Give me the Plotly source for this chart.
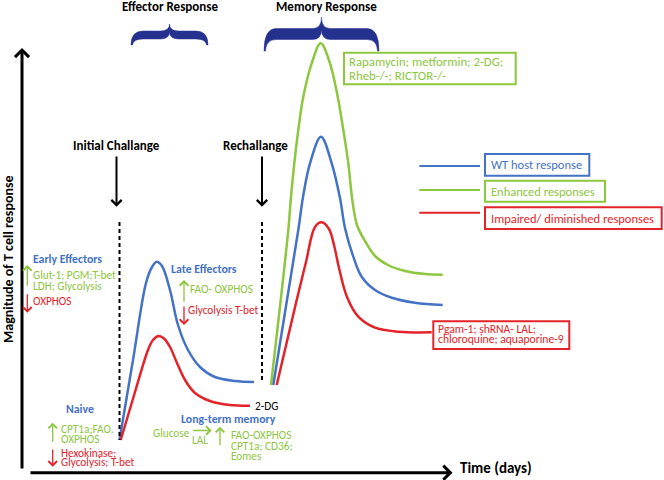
import plotly.graph_objects as go

# schematic curves: time (px-like units) vs magnitude of T cell response
t_wt_1 = [119.5, 133, 146, 152, 156.7, 162, 170, 178, 188, 200, 215, 235, 254]
m_wt_1 = [40, 120, 197, 213, 218.3, 214, 190, 155, 130, 113, 103, 99, 98]
t_imp_1 = [120.7, 135, 148, 153, 158.7, 164, 170, 177, 185, 195, 210, 230, 250]
m_imp_1 = [40, 88, 130, 140, 144, 141.5, 133, 117, 100, 87, 79, 75, 74.3]

t_enh_2 = [271, 288.3, 291, 294.3, 298.3, 303.3, 311.7, 320.7, 330, 337.7, 343.3, 348.3,
           352.3, 357, 365, 375, 388, 405, 425, 442.7]
m_enh_2 = [95, 250, 283.3, 316.7, 350, 383.3, 416.7, 436.7, 416.7, 383.3, 350, 316.7,
           280, 255, 239, 224, 215, 209, 206, 205.3]
t_wt_2 = [273.3, 298.3, 303, 310, 321, 331.7, 340, 345, 353.3, 361.7, 375, 391.7, 415, 442.7]
m_wt_2 = [95, 250, 283, 316.7, 343.3, 316.7, 282, 252, 223.3, 203.3, 190, 182.3, 177.3, 175]
t_imp_2 = [276.7, 296.7, 306, 315, 321.7, 329, 334, 339, 347, 358.3, 375, 398.3, 431.7]
m_imp_2 = [95, 180, 218, 253, 257.7, 251, 235, 212, 183, 163.3, 152.3, 148.3, 147.7]

legend_labels = ["WT host response", "Enhanced responses", "Impaired/ diminished responses"]

BLUE = "#4472C4"
GREEN = "#8DC63F"
RED = "#E3232A"
NAVY = "#24318F"
FONT = "Carlito, Lato, sans-serif"
SMALL = 11.3


def Y(py):
    # picture rows -> magnitude units
    return 480 - py


fig = go.Figure()
for t, m, c in [(t_wt_1, m_wt_1, BLUE), (t_imp_1, m_imp_1, RED),
                (t_enh_2, m_enh_2, GREEN), (t_wt_2, m_wt_2, BLUE), (t_imp_2, m_imp_2, RED)]:
    fig.add_trace(go.Scatter(x=t, y=m, mode="lines", line=dict(color=c, width=2.5, shape="spline"),
                             hoverinfo="skip"))

shapes = []
ann = []


def brace(x0, x1, yt, yb, ye, th):
    xc = (x0 + x1) / 2
    r, r2 = 12, 9
    a, b = yb - th / 2, yb + th / 2
    pts = [("M", x0, ye), ("Q", x0, a, x0 + r, a), ("L", xc - r2, a), ("Q", xc, a, xc, yt),
           ("Q", xc, a, xc + r2, a), ("L", x1 - r, a), ("Q", x1, a, x1, ye), ("L", x1 - 1.5, ye),
           ("Q", x1 - 2, b, x1 - r, b), ("L", xc + r2, b), ("Q", xc, b, xc, a + 1),
           ("Q", xc, b, xc - r2, b), ("L", x0 + r, b), ("Q", x0 + 2, b, x0 + 1.5, ye)]
    s = ""
    for p in pts:
        nums = p[1:]
        s += p[0] + " " + " ".join(f"{nums[i]},{Y(nums[i + 1])}" for i in range(0, len(nums), 2)) + " "
    return dict(type="path", path=s + "Z", fillcolor=NAVY, line=dict(color=NAVY, width=0.5),
                xref="x", yref="y")


shapes.append(brace(131, 208, 24, 35, 45, 8))
shapes.append(brace(264, 379, 17, 34, 51, 11))

# dashed challenge lines
shapes.append(dict(type="line", x0=119.5, x1=119.5, y0=Y(222), y1=Y(440),
                   line=dict(color="black", width=2, dash="4px,3px")))
shapes.append(dict(type="line", x0=262, x1=262, y0=Y(222), y1=Y(380),
                   line=dict(color="black", width=2, dash="4px,3px")))

# legend lines and boxes
for yl, c, (bx1, by0, by1), lab in zip([166, 190, 212.7], [BLUE, GREEN, RED],
                                        [(589.3, 154, 175.7), (605, 180.7, 201.7), (661.7, 207.3, 229)],
                                        legend_labels):
    shapes.append(dict(type="line", x0=419.3, x1=480, y0=Y(yl), y1=Y(yl), line=dict(color=c, width=2)))
    shapes.append(dict(type="rect", x0=485, x1=bx1, y0=Y(by0), y1=Y(by1), line=dict(color=c, width=2)))
    ann.append(dict(x=488.5, y=Y((by0 + by1) / 2), text=lab, xanchor="left", yanchor="middle",
                    showarrow=False, font=dict(color=c, size=12.5, family=FONT)))

shapes.append(dict(type="rect", x0=344, x1=515.7, y0=Y(52.7), y1=Y(84.3), line=dict(color=GREEN, width=2)))
shapes.append(dict(type="rect", x0=433.3, x1=569.3, y0=Y(321.3), y1=Y(349), line=dict(color=RED, width=2)))


def txt(x, py, s, color, size=SMALL, bold=False, anchor="left", **kw):
    if bold:
        s = "<b>" + s + "</b>"
    ann.append(dict(x=x, y=Y(py), text=s, xanchor=anchor, yanchor="middle", showarrow=False,
                    font=dict(color=color, size=size, family=FONT), **kw))


def arrow(x, py_tail, py_head, color, width=1.3, size=1.3):
    ann.append(dict(x=x, y=Y(py_head), ax=x, ay=Y(py_tail),
                    xref="x", yref="y", axref="x", ayref="y", text="", showarrow=True,
                    arrowhead=4, arrowsize=size, arrowwidth=width, arrowcolor=color, standoff=0))


txt(346.5, 61.7, "Rapamycin; metformin; 2-DG;", GREEN, 12.8)
txt(346.5, 75.7, "Rheb-/-; RICTOR-/-", GREEN, 12.8)
txt(435.5, 329.3, "Pgam-1; shRNA- LAL;", RED, 11.6)
txt(435.5, 339.3, "chloroquine; aquaporine-9", RED, 11.6)

txt(170, 6.7, "Effector Response", "black", 13, True, "center")
txt(326, 6.7, "Memory Response", "black", 13, True, "center")
txt(116.5, 145.7, "Initial Challange", "black", 13, True, "center")
txt(255.6, 145.7, "Rechallange", "black", 13, True, "center")
txt(496, 468, "Time (days)", "black", 15, True, "center")
txt(8, 259, "Magnitude of T cell response", "black", 14, True, "center", textangle=-90)

arrow(116.5, 155, 206.7, "black", 2, 1)
arrow(262, 155, 206.7, "black", 2, 1)

# axes
arrow(22, 470, 48, "black", 3, 0.9)
ann.append(dict(x=452.5, y=Y(472.7), ax=29, ay=Y(472.7), xref="x", yref="y", axref="x", ayref="y",
                text="", showarrow=True, arrowhead=4, arrowsize=0.9, arrowwidth=3,
                arrowcolor="black", standoff=0))

# early effectors
txt(31, 259, "Early Effectors", BLUE, 11.8, True)
arrow(27.3, 287.3, 265, GREEN)
txt(31, 275, "Glut-1; PGM;T-bet", GREEN)
txt(31, 286, "LDH; Glycolysis", GREEN)
arrow(27.3, 292.7, 312.7, RED)
txt(31, 301, "OXPHOS", RED)

# naive
txt(80, 409.3, "Naive", BLUE, 11.8, True, "center")
arrow(52.7, 443.3, 422.7, GREEN)
txt(59.3, 429, "CPT1a;FAO.", GREEN)
txt(59.3, 439, "OXPHOS", GREEN)
arrow(52.7, 448, 466.7, RED)
txt(59.3, 452.7, "Hexokinase;", RED)
txt(59.3, 462.3, "Glycolysis; T-bet", RED)

# late effectors
txt(169.3, 269.3, "Late Effectors", BLUE, 11.8, True)
arrow(184, 303.3, 280, GREEN)
txt(187.6, 289.3, "FAO- OXPHOS", GREEN)
arrow(184, 305, 325, RED)
txt(186, 310, "Glycolysis T-bet", RED)

# long-term memory
txt(253.3, 406, "2-DG", "black", SMALL)
txt(228.7, 419, "Long-term memory", BLUE, 11.8, True, "center")
txt(151, 432.7, "Glucose", GREEN)
ann.append(dict(x=211.7, y=Y(430.5), ax=191.7, ay=Y(430.5), xref="x", yref="y", axref="x", ayref="y",
                text="", showarrow=True, arrowhead=4, arrowsize=1.3, arrowwidth=1.3,
                arrowcolor=GREEN, standoff=0))
txt(200.3, 439.8, "LAL", GREEN, SMALL, False, "center")
arrow(220, 446.7, 426.7, GREEN)
txt(228.6, 435, "FAO-OXPHOS", GREEN)
txt(228.6, 445.7, "CPT1a; CD36;", GREEN)
txt(228.6, 456, "Eomes", GREEN)

fig.update_layout(width=664, height=480, margin=dict(l=0, r=0, t=0, b=0),
                  paper_bgcolor="white", plot_bgcolor="white", showlegend=False,
                  xaxis=dict(range=[0, 664], visible=False, fixedrange=True),
                  yaxis=dict(range=[0, 480], visible=False, fixedrange=True),
                  shapes=shapes, annotations=ann)

# the page body has a default 8px margin; drop it so the figure fills the window
fig.write_html("out.html", config={"displayModeBar": False},
               post_script="document.body.style.margin='0px';")
